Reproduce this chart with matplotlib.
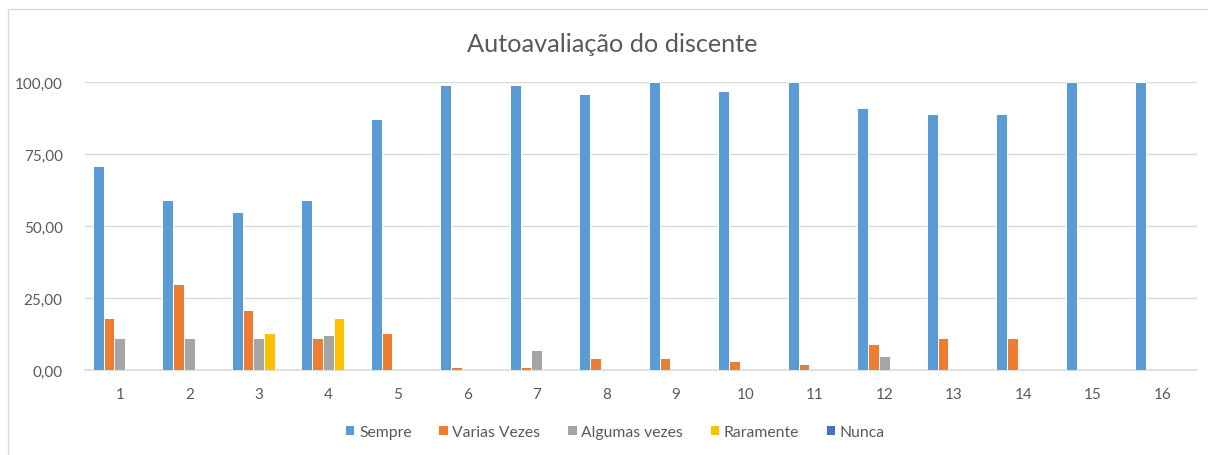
import matplotlib
matplotlib.use("Agg")
import matplotlib.pyplot as plt
from matplotlib.patches import Rectangle
import numpy as np

categories = ["1", "2", "3", "4", "5", "6", "7", "8", "9", "10", "11", "12", "13", "14", "15", "16"]
sempre = [71, 59, 55, 59, 87, 99, 99, 96, 100, 97, 100, 91, 89, 89, 100, 100]
varias = [18, 30, 21, 11, 13, 1, 1, 4, 4, 3, 2, 9, 11, 11, 0, 0]
algumas = [11, 11, 11, 12, 0, 0, 7, 0, 0, 0, 0, 5, 0, 0, 0, 0]
raramente = [0, 0, 13, 18, 0, 0, 0, 0, 0, 0, 0, 0, 0, 0, 0, 0]
nunca = [0] * 16
series_names = ["Sempre", "Varias Vezes", "Algumas vezes", "Raramente", "Nunca"]
colors = ["#5B9BD5", "#ED7D31", "#A5A5A5", "#FFC000", "#4472C4"]
yticks = [0, 25, 50, 75, 100]
ytick_labels = ["0,00", "25,00", "50,00", "75,00", "100,00"]

plt.rcParams['font.family'] = ['Lato', 'DejaVu Sans']
txt = "#595959"

W, H = 1208, 456
fig = plt.figure(figsize=(W / 100, H / 100), dpi=100)
fig.patch.set_facecolor("white")

# chart border
fig.add_artist(Rectangle((8 / W, -0.1), 1.2, 1.1 - 10 / H, transform=fig.transFigure,
                         fill=False, edgecolor="#D9D9D9", linewidth=1.0))

ax = fig.add_axes([85 / W, 1 - 371 / H, (1197 - 85) / W, (371 - 83) / H])
x = np.arange(len(categories))
data = [sempre, varias, algumas, raramente, nunca]
slot = 0.155
for i, (vals, c, name) in enumerate(zip(data, colors, series_names)):
    ax.bar(x + (i - 2) * slot, vals, width=slot, color=c, edgecolor="white",
           linewidth=0.7, label=name, zorder=3)

ax.set_xlim(-0.5, len(categories) - 0.5)
ax.set_ylim(0, 100)
ax.set_yticks(yticks)
ax.set_yticklabels(ytick_labels)
ax.set_xticks(x)
ax.set_xticklabels(categories)
ax.tick_params(axis="both", length=0, colors=txt, labelsize=11)
ax.tick_params(axis="y", pad=16)
ax.tick_params(axis="x", pad=12)
for s in ["top", "right", "left"]:
    ax.spines[s].set_visible(False)
ax.spines["bottom"].set_color("#D9D9D9")
ax.spines["bottom"].set_linewidth(1.2)
ax.yaxis.grid(True, color="#D9D9D9", linewidth=1.0, zorder=0)
ax.set_axisbelow(True)

fig.text(612 / W, 1 - 45 / H, "Autoavaliação do discente", ha="center", va="center",
         fontsize=18.2, color=txt)

leg = fig.legend(loc="center", bbox_to_anchor=(615 / W, 1 - 433 / H), ncol=5, frameon=False,
                 fontsize=11.3, handlelength=0.6, handleheight=0.6, handletextpad=0.3,
                 columnspacing=1.7, labelcolor=txt)

fig.savefig("out.png", dpi=100, facecolor="white")
